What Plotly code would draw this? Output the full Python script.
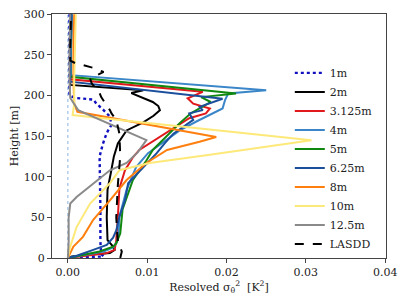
import plotly.graph_objects as go

# ---------------- data ----------------
names = ["1m", "2m", "3.125m", "4m", "5m", "6.25m", "8m", "10m", "12.5m", "LASDD"]

z_1m = [0, 2, 5, 20, 60, 100, 125, 140, 154, 164, 174, 182, 190, 195, 197, 200, 250, 300]
v_1m = [0, 0.0045, 0.0042, 0.0041, 0.0041, 0.0040, 0.0040, 0.0044, 0.0049, 0.0055, 0.0053, 0.0045,
        0.0036, 0.0032, 0.0009, 0.0002, 0.0002, 0.0002]

z_2m = [0, 2, 6, 10, 14, 22, 50, 84, 104, 125, 141, 157, 167, 175, 182, 187, 192, 203, 206.5,
        213, 220, 260, 300]
v_2m = [0, 0.0005, 0.0053, 0.0059, 0.0057, 0.0050, 0.0049, 0.0050, 0.0054, 0.0058, 0.0063, 0.0074,
        0.0095, 0.0108, 0.0116, 0.0114, 0.0107, 0.0080, 0.0095, 0.0003, 0.0003, 0.0004, 0.0005]

z_3m = [0, 3, 6, 10, 22, 50, 86, 108, 124, 133, 149, 160, 172, 178, 184, 190, 196.6, 204.5, 220, 260, 300]
v_3m = [0, 0.0025, 0.0049, 0.0059, 0.0061, 0.0063, 0.0065, 0.0072, 0.0082, 0.0090, 0.0116, 0.0135,
        0.0153, 0.0174, 0.0179, 0.0158, 0.0151, 0.0170, 0.0003, 0.0003, 0.0004]

z_4m = [0, 4, 8, 13, 20, 30, 51, 84, 112, 129, 145, 157, 168, 184, 194, 202.5, 206.5, 225, 260, 300]
v_4m = [0, 0.0025, 0.0045, 0.0057, 0.0062, 0.0064, 0.0065, 0.0074, 0.0086, 0.0101, 0.0124, 0.0141,
        0.0162, 0.0195, 0.0198, 0.0202, 0.0250, 0.0004, 0.0004, 0.0005]

z_5m = [0, 4, 8, 14, 18, 30, 60, 96, 120, 133, 150, 166, 178, 184, 192, 198, 202.5, 223, 260, 300]
v_5m = [0, 0.0020, 0.0040, 0.0057, 0.0061, 0.0066, 0.0069, 0.0082, 0.0099, 0.0107, 0.0124, 0.0141,
        0.0155, 0.0165, 0.0180, 0.0168, 0.0212, 0.0003, 0.0003, 0.0004]

z_6m = [0, 3, 10, 16, 25, 34, 51, 71, 92, 112, 129, 141, 153, 170, 178, 182, 186, 196, 217, 260, 300]
v_6m = [0, 0.0012, 0.0032, 0.0049, 0.0057, 0.0061, 0.0065, 0.0072, 0.0076, 0.0095, 0.0112, 0.0122,
        0.0133, 0.0158, 0.0153, 0.0170, 0.0166, 0.0195, 0.0003, 0.0003, 0.0004]

z_8m = [0, 8, 14, 26, 47, 71, 96, 117, 133, 143, 149, 180, 190, 220, 260, 300]
v_8m = [0, 0.0004, 0.0007, 0.0019, 0.0032, 0.0053, 0.0074, 0.0099, 0.0125, 0.0166, 0.0187, 0.0012,
        0.0008, 0.0007, 0.0007, 0.0008]

z_10m = [0, 5, 14, 38, 67, 92, 108, 117, 127, 145, 176, 190, 220, 260, 300]
v_10m = [0, 0.0001, 0.0003, 0.0011, 0.0028, 0.0053, 0.0065, 0.0103, 0.0179, 0.0307, 0.0006, 0.0008,
         0.0008, 0.0009, 0.0010]

z_12m = [0, 20, 50, 60, 67, 75, 92, 108, 117, 130, 145, 182, 197, 220, 260, 300]
v_12m = [0, 0.0001, 0.0001, 0.0002, 0.0003, 0.0011, 0.0032, 0.0053, 0.0074, 0.0088, 0.0099, 0.0013,
         0.0003, 0.0002, 0.0002, 0.0003]

z_las = [0, 8, 20, 50, 90, 125, 153, 161, 170, 178, 182, 198, 203, 215, 221, 229, 234, 240, 243, 260, 300]
v_las = [0.0066, 0.0068, 0.0063, 0.0061, 0.0063, 0.0066, 0.0065, 0.0063, 0.0061, 0.0055, 0.0053,
         0.0042, 0.0040, 0.0030, 0.0028, 0.0045, 0.0032, 0.0009, 0.0003, 0.0003, 0.0004]

z_ref = [0, 300]
v_ref = [0, 0]

heights = [z_1m, z_2m, z_3m, z_4m, z_5m, z_6m, z_8m, z_10m, z_12m, z_las]
values = [v_1m, v_2m, v_3m, v_4m, v_5m, v_6m, v_8m, v_10m, v_12m, v_las]

colors = ["#1010c0", "#000000", "#e0191c", "#3a86c8", "#10880f", "#1b4f9c",
          "#ff7f0e", "#fde97a", "#8a8a8a", "#000000"]
dashes = ["dot", "solid", "solid", "solid", "solid", "solid", "solid", "solid", "solid", "dash"]

x_ticks = [0.0, 0.01, 0.02, 0.03, 0.04]
x_labels = ["0.00", "0.01", "0.02", "0.03", "0.04"]
y_ticks = [0, 50, 100, 150, 200, 250, 300]
y_labels = ["0", "50", "100", "150", "200", "250", "300"]

FONT = "DejaVu Serif, Liberation Serif, serif"

fig = go.Figure()
fig.add_trace(go.Scatter(x=v_ref, y=z_ref, mode="lines", showlegend=False, hoverinfo="skip",
                         line=dict(color="#8ab4e0", width=1, dash="dot")))
for n, zz, vv, c, d in zip(names, heights, values, colors, dashes):
    fig.add_trace(go.Scatter(x=vv, y=zz, mode="lines", name=n,
                             line=dict(color=c, width=2 if d != "dot" else 2.4, dash=d)))

axis_common = dict(showline=True, linecolor="#444", linewidth=1, mirror=True, automargin=False,
                   ticks="outside", ticklen=4, tickcolor="#444", showgrid=False, zeroline=False,
                   tickfont=dict(family=FONT, size=11, color="#222"))
fig.update_xaxes(range=[-0.002, 0.0401], tickvals=x_ticks, ticktext=x_labels,
                 title=dict(text="Resolved σ<sub>θ</sub><sup>2</sup>  [K<sup>2</sup>]",
                            font=dict(family=FONT, size=11, color="#222"), standoff=2),
                 **axis_common)
fig.update_yaxes(range=[0, 300.3], tickvals=y_ticks, ticktext=y_labels,
                 title=dict(text="Height [m]", font=dict(family=FONT, size=11, color="#222"), standoff=8),
                 **axis_common)
fig.update_layout(
    width=399, height=297,
    margin=dict(l=44, r=21, t=6, b=47),
    paper_bgcolor="white", plot_bgcolor="white",
    font=dict(family=FONT, size=11, color="#222"),
    legend=dict(x=0.712, y=0.818, xanchor="left", yanchor="top", bgcolor="rgba(0,0,0,0)",
                font=dict(family=FONT, size=11, color="#222"), itemwidth=30,
                tracegroupgap=0),
)
fig.write_html("out.html")
